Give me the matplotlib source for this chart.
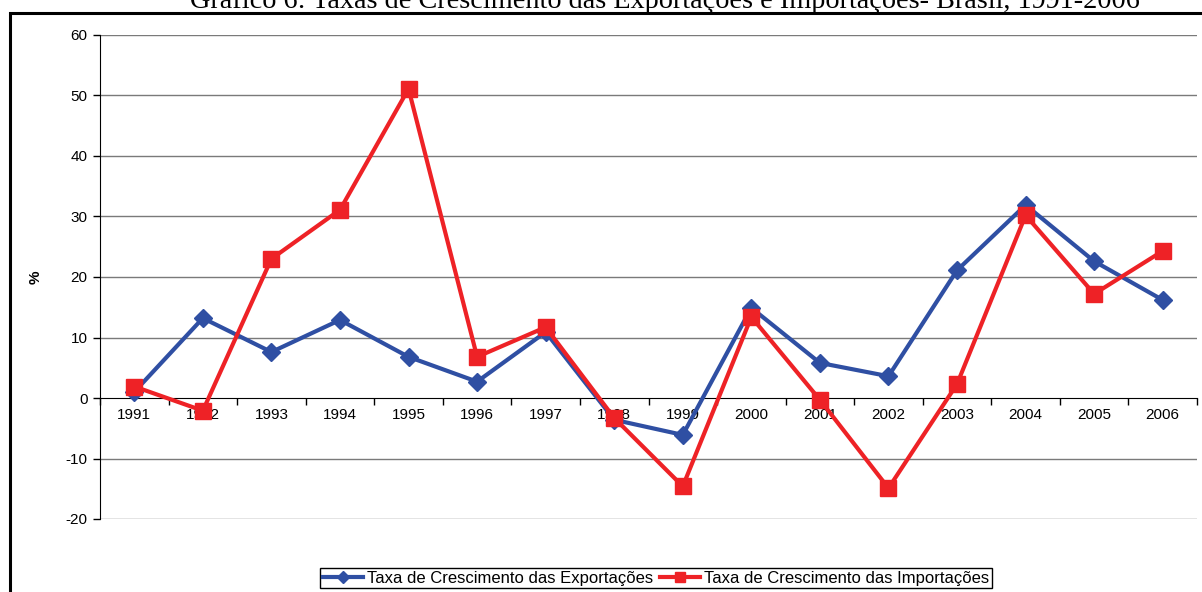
import matplotlib
matplotlib.use("Agg")
import matplotlib.pyplot as plt
from matplotlib.patches import Rectangle
import numpy as np

# data
years = ['1991', '1992', '1993', '1994', '1995', '1996', '1997', '1998',
         '1999', '2000', '2001', '2002', '2003', '2004', '2005', '2006']
exportacoes = [1.0, 13.2, 7.6, 12.9, 6.8, 2.7, 10.9, -3.6,
               -6.1, 14.9, 5.8, 3.6, 21.1, 31.9, 22.6, 16.2]
importacoes = [1.9, -2.1, 23.0, 31.1, 51.1, 6.8, 11.7, -3.3,
               -14.6, 13.4, -0.3, -14.9, 2.3, 30.2, 17.2, 24.3]
y_ticks = [-20, -10, 0, 10, 20, 30, 40, 50, 60]

title = 'Gráfico 6: Taxas de Crescimento das Exportações e Importações- Brasil, 1991-2006'
label_exp = 'Taxa de Crescimento das Exportações'
label_imp = 'Taxa de Crescimento das Importações'

plt.rcParams['font.family'] = ['Liberation Sans', 'DejaVu Sans']
plt.rcParams['axes.unicode_minus'] = False

fig = plt.figure(figsize=(12.02, 5.92), dpi=100)
W, H = 1202, 592

# outer frame (right and bottom edges fall outside the picture)
fig.patches.append(Rectangle((10 / W, -0.1), 1.2, 1 - 12.5 / H + 0.1,
                             transform=fig.transFigure, fill=False,
                             edgecolor='black', linewidth=2.2))

# title, clipped at the top like in the scan
fig.text(665 / W, 1 - 8 / H, title, family='Liberation Serif', fontsize=20.3,
         ha='center', va='baseline')

ax = fig.add_axes([100 / W, 1 - 519 / H, (1197 - 100) / W, (519 - 35) / H])

x = np.arange(len(years))
ax.plot(x, exportacoes, color='#2F4FA3', linewidth=3, marker='D',
        markersize=9.5, label=label_exp, zorder=3)
ax.plot(x, importacoes, color='#EE2226', linewidth=3, marker='s',
        markersize=11, label=label_imp, zorder=4)

ax.set_xlim(-0.5, len(years) - 0.5)
ax.set_ylim(-20, 60)
ax.set_yticks(y_ticks)
ax.tick_params(axis='y', direction='out', length=5, width=1, labelsize=11, pad=4)
for v in y_ticks:
    if v != 0:
        ax.axhline(v, color='#7a7a7a', linewidth=1, zorder=1)

# category axis drawn through zero, ticks between categories
ax.spines['bottom'].set_position(('data', 0))
ax.spines['top'].set_visible(False)
ax.spines['right'].set_visible(False)
ax.set_xticks(np.arange(-0.5, len(years)))
ax.set_xticklabels([])
ax.tick_params(axis='x', which='major', direction='out', length=5, width=1)
ax.set_xticks(x, minor=True)
ax.set_xticklabels(years, minor=True)
ax.tick_params(axis='x', which='minor', length=0, labelsize=11, pad=7)

ax.set_ylabel('%', fontsize=11, fontweight='bold')
ax.yaxis.set_label_coords(-(100 - 43) / 1097, 0.5)

fig.legend(loc='center', bbox_to_anchor=(656 / W, 1 - 578 / H), ncol=2,
           fontsize=12, frameon=True, fancybox=False, edgecolor='black',
           framealpha=1, handlelength=2.4, handletextpad=0.25,
           columnspacing=0.4, borderpad=0.15, borderaxespad=0,
           markerscale=0.6)

fig.savefig('out.png', dpi=100)
